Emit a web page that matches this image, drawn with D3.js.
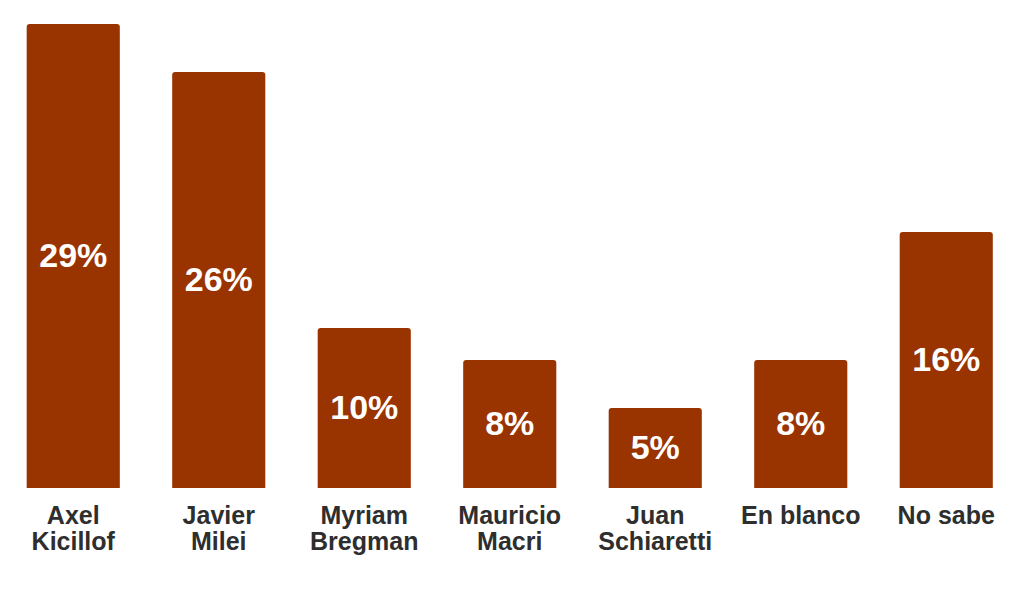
<!DOCTYPE html>
<html><head><meta charset="utf-8">
<script src="https://cdn.jsdelivr.net/npm/d3@7"></script>
<style>body{margin:0;background:#fff}svg{display:block}</style>
</head><body>
<svg id="c" width="1024" height="589"></svg>
<script>
const categories = [["Axel","Kicillof"],["Javier","Milei"],["Myriam","Bregman"],["Mauricio","Macri"],["Juan","Schiaretti"],["En blanco"],["No sabe"]];
const values = [29, 26, 10, 8, 5, 8, 16];
const labels = values.map(v => v + "%");

const svg = d3.select("#c");
const keys = categories.map(c => c.join(" "));
const x = d3.scaleBand().domain(keys).range([0.5, 1019]).paddingInner(0.36).paddingOuter(0.18);
const y = d3.scaleLinear().domain([0, 29]).range([488, 24]);

const g = svg.append("g");
g.selectAll("path.bar").data(values).join("path")
  .attr("class","bar")
  .attr("fill", "#993300")
  .attr("d", (d,i) => {
    const x0 = x(keys[i]), w = x.bandwidth(), y0 = y(d), y1 = y(0), r = 3;
    return `M${x0},${y1}V${y0+r}Q${x0},${y0} ${x0+r},${y0}H${x0+w-r}Q${x0+w},${y0} ${x0+w},${y0+r}V${y1}Z`;
  });

g.selectAll("text.val").data(values).join("text")
  .attr("class","val")
  .attr("x", (d,i) => x(keys[i]) + x.bandwidth()/2)
  .attr("y", d => (y(d) + y(0))/2 - 1)
  .attr("dy", "0.36em")
  .attr("text-anchor","middle")
  .attr("fill","#fff")
  .attr("font-family","Liberation Sans, Arial, sans-serif")
  .attr("font-weight","bold")
  .attr("font-size", 34)
  .text((d,i) => labels[i]);

const cat = g.selectAll("text.cat").data(categories).join("text")
  .attr("class","cat")
  .attr("x", (d,i) => x(keys[i]) + x.bandwidth()/2)
  .attr("y", 524)
  .attr("text-anchor","middle")
  .attr("fill","#2e2e2e")
  .attr("font-family","Liberation Sans, Arial, sans-serif")
  .attr("font-weight","bold")
  .attr("font-size", 25);
cat.selectAll("tspan").data(d => d).join("tspan")
  .attr("x", function(){ return this.parentNode.getAttribute("x"); })
  .attr("dy", (d,i) => i === 0 ? 0 : 26)
  .text(d => d);
</script>
</body></html>
